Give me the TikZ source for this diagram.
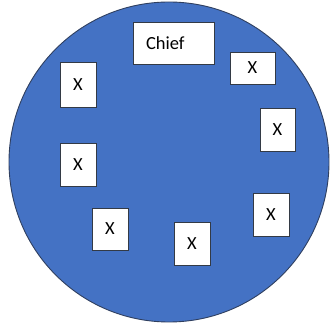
\documentclass[tikz,border=0pt]{standalone}
\usepackage{fontspec}
\setmainfont{Carlito}
\definecolor{officeblue}{HTML}{4472C4}
\definecolor{blueline}{HTML}{2F3F5F}
\definecolor{boxline}{HTML}{333A45}
\begin{document}
\begin{tikzpicture}[x=1pt,y=-1pt,
    member/.style={draw=boxline,line width=0.9pt,fill=white,inner sep=0pt,font=\fontsize{18.5}{20}\selectfont}]
      \useasboundingbox (0,0) rectangle (330,323);
      \filldraw[fill=officeblue,draw=blueline,line width=0.9pt] (169,162) circle[radius=160];

      \node[member,minimum width=81,minimum height=42,text width=55,align=left,inner xsep=13] (chief) at (173.5,43) {Chief};
      \foreach\n/\i/\j/\w/\h in {1/252.5/68/45/32, 2/277.5/129.5/35/43, 3/78/84.5/36/45, 4/78/164.5/36/43,
                                 5/110/229/36/42, 6/192/243.5/36/43, 7/271/214.5/36/43}
      {\node[member,minimum width=\w,minimum height=\h] (x\n) at (\i,\j) {X};}
    \end{tikzpicture}
\end{document}
